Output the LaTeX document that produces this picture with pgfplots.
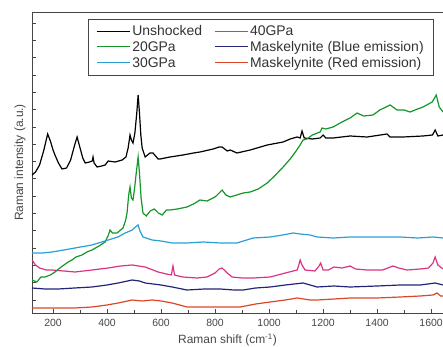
\documentclass[border=0pt]{standalone}
\usepackage{fontspec}
\setmainfont{Liberation Sans}
\usepackage{pgfplots}
\pgfplotsset{compat=1.18}
\definecolor{cgreen}{RGB}{20,150,40}
\definecolor{ccyan}{RGB}{40,160,215}
\definecolor{cpink}{RGB}{220,50,130}
\definecolor{cnavy}{RGB}{35,35,120}
\definecolor{cred}{RGB}{220,70,40}
\definecolor{caxis}{RGB}{70,70,70}
\begin{document}
\begin{tikzpicture}
\begin{axis}[
  scale only axis, width=411bp, height=301bp,
  xmin=122, xmax=1644, ymin=0, ymax=301,
  axis x line*=box, axis y line*=left,
  axis line style={caxis, line width=0.8bp},
  xtick={200,400,...,1600}, minor x tick num=1,
  ytick={13,30.3,...,290}, yticklabels={},
  xtick pos=bottom, ytick pos=left,
  tick align=inside, major tick length=4bp, minor tick length=2.5bp,
  tick style={caxis, line width=0.8bp},
  /pgf/number format/assume math mode=true,
  /pgf/number format/set thousands separator={},
  ticklabel style={font=\fontsize{10.5}{12}\selectfont, text=caxis},
  xticklabel style={yshift=-3bp},
  xlabel={Raman shift (cm\textsuperscript{-1})},
  ylabel={Raman intensity (a.u.)},
  label style={font=\fontsize{12}{14}\selectfont, text=caxis},
  xlabel style={yshift=0bp, xshift=-10bp},
  ylabel style={yshift=-4bp},
  legend columns=2,
  legend style={at={(rel axis cs:0.136,0.977)}, anchor=north west,
    draw=caxis, line width=0.8bp, font=\fontsize{14}{16}\selectfont, text=black!80,
    inner xsep=8bp, inner ysep=4.5bp, row sep=0.3bp,
    /tikz/every even column/.append style={column sep=10bp}},
  legend cell align=left,
  legend image code/.code={\draw[#1, line width=1bp] (0bp,0.5bp) -- (33bp,0.5bp);},
  every axis plot/.append style={line width=1.2bp},
]
\addplot[black] coordinates {(122,138) (135,141) (150,148) (165,162) (180,179) (190,172) (200,163) (207,158) (220,150) (233,144) (250,145) (265,153) (280,168) (289,176) (300,165) (310,155) (319,150) (335,151) (345,152) (348,156) (352,150) (363,146) (380,147) (393,148) (404,152) (430,151) (456,153) (470,156) (478,165) (485,178) (490,173) (496,170) (503,180) (510,200) (515,218) (520,200) (525,178) (530,165) (541,156) (559,160) (570,160) (589,154) (596,154) (633,156) (681,158) (720,160) (744,161) (793,164) (815,166) (826,166) (845,162) (856,163) (881,160) (930,163) (993,168) (1052,171) (1078,174) (1104,176) (1115,175) (1122,182) (1130,175) (1160,174) (1189,175) (1200,178) (1210,175) (1237,175) (1300,177) (1363,176) (1437,179) (1448,176) (1496,176) (1570,177) (1605,178) (1615,183) (1625,177) (1644,178)};
\addlegendentry{Unshocked}
\addplot[cpink] coordinates {(122,53) (135,48) (150,45) (175,43) (196,43) (240,42) (281,41) (344,43) (404,45) (450,47) (493,48) (541,46) (589,41) (620,39) (638,38) (644,47) (650,38) (680,36) (733,35) (770,36) (800,40) (815,44) (826,45) (845,40) (863,36) (900,35) (941,35) (1004,36) (1060,40) (1104,43) (1110,48) (1115,53) (1122,48) (1133,43) (1170,42) (1185,47) (1191,50) (1200,43) (1220,43) (1240,46) (1270,45) (1300,47) (1320,44) (1363,43) (1420,43) (1459,47) (1480,45) (1511,43) (1560,44) (1590,45) (1607,50) (1615,56) (1625,48) (1644,44)};
\addlegendentry{40GPa}
\addplot[cgreen] coordinates {(122,33) (140,31) (155,36) (170,36) (190,38) (207,41) (230,46) (256,51) (270,53) (285,56) (307,58) (325,61) (344,63) (370,67) (393,71) (405,78) (411,83) (420,80) (437,80) (450,83) (459,85) (468,92) (474,100) (480,118) (485,126) (490,115) (496,113) (502,125) (508,140) (515,156) (520,140) (526,115) (533,100) (545,97) (560,102) (575,104) (590,100) (604,98) (620,103) (633,103) (660,104) (696,106) (720,109) (744,113) (770,112) (800,116) (815,120) (826,123) (840,118) (856,116) (880,118) (904,120) (930,121) (960,124) (993,130) (1020,137) (1052,146) (1078,154) (1100,162) (1115,168) (1126,173) (1140,174) (1160,178) (1189,181) (1196,185) (1210,184) (1237,186) (1270,191) (1300,195) (1326,200) (1350,197) (1385,198) (1410,203) (1448,208) (1474,203) (1500,203) (1522,201) (1550,204) (1570,206) (1604,211) (1619,218) (1630,206) (1644,201)};
\addlegendentry{20GPa}
\addplot[cnavy] coordinates {(122,25) (170,24) (219,24) (280,25) (344,26) (400,28) (441,30) (493,33) (520,32) (541,30) (600,28) (641,26) (696,23) (760,24) (819,24) (870,23) (904,23) (950,25) (1004,26) (1060,28) (1126,30) (1178,26) (1240,27) (1300,26) (1400,27) (1485,28) (1560,28) (1615,30) (1644,28)};
\addlegendentry{Maskelynite (Blue emission)}
\addplot[ccyan] coordinates {(122,60) (160,60) (196,61) (240,63) (281,65) (344,68) (404,73) (440,76) (467,80) (485,82) (493,83) (505,86) (515,88) (522,82) (533,76) (567,73) (600,72) (641,70) (696,70) (756,71) (820,70) (881,70) (941,75) (1004,76) (1050,78) (1089,80) (1115,79) (1152,78) (1178,76) (1237,75) (1300,76) (1363,76) (1420,76) (1485,76) (1550,75) (1607,76) (1644,75)};
\addlegendentry{30GPa}
\addplot[cred] coordinates {(122,5) (170,5) (219,5) (280,5) (344,6) (400,8) (441,10) (493,13) (530,12) (567,13) (600,12) (641,10) (696,6) (760,6) (819,6) (893,6) (950,9) (1004,11) (1060,13) (1104,15) (1152,13) (1178,13) (1240,14) (1300,15) (1400,15) (1485,16) (1560,17) (1607,18) (1622,20) (1635,17) (1644,17)};
\addlegendentry{Maskelynite (Red emission)}
\end{axis}
\pgfresetboundingbox
\path (current axis.south west) ++(-32bp,-34bp) rectangle ++(443bp,347bp);
\end{tikzpicture}
\end{document}
